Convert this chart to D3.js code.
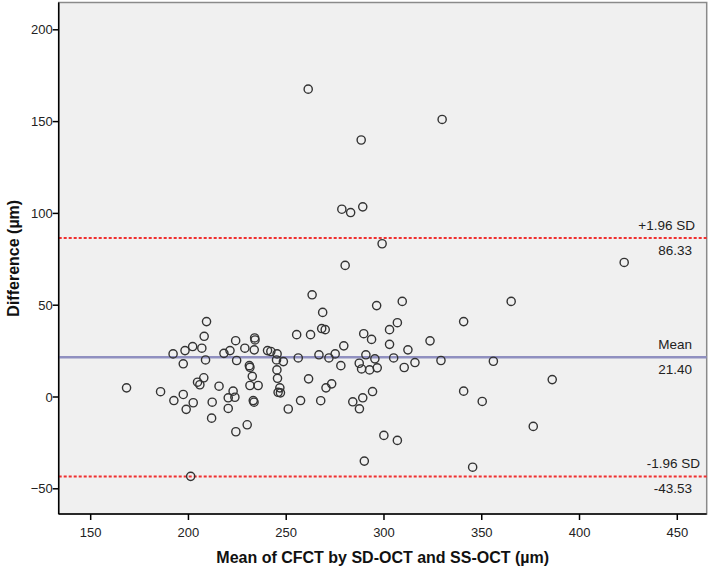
<!DOCTYPE html>
<html>
<head>
<meta charset="utf-8">
<script src="https://cdn.jsdelivr.net/npm/d3@7"></script>
<style>
  html, body { margin: 0; padding: 0; background: #ffffff; }
  svg { display: block; font-family: "Liberation Sans", Arial, sans-serif; }
</style>
</head>
<body>
<svg id="chart" width="711" height="569"></svg>
<script>
// ---- Data ----
const meanValues = [
  261.5, 330.0, 288.6, 278.7, 283.2, 289.4, 299.3, 280.4, 423.1, 365.3,
  263.5, 268.9, 296.5, 309.6, 307.1, 303.1, 293.9, 341.0, 303.1, 323.8,
  312.5, 295.6, 305.2, 292.9, 296.8, 310.6, 316.1, 329.4, 356.2, 294.4,
  341.0, 350.5, 386.3, 376.6, 345.6, 300.2, 307.1, 290.2, 255.6, 262.7,
  268.4, 270.2, 279.7, 289.9, 240.7, 242.4, 245.6, 245.3, 248.8, 256.4,
  267.0, 272.1, 275.3, 278.2, 287.6, 288.8, 291.0, 245.5, 245.8, 261.7,
  273.5, 270.6, 247.0, 246.1, 247.3, 257.6, 267.9, 251.3, 284.3, 289.4,
  287.7, 209.5, 208.3, 202.4, 198.5, 207.1, 192.4, 197.6, 209.0, 224.4,
  218.4, 221.5, 224.9, 229.1, 234.1, 234.3, 233.9, 231.4, 231.7, 232.9,
  231.7, 235.9, 208.1, 204.9, 206.1, 215.9, 223.1, 224.0, 220.6, 186.0,
  197.6, 192.8, 202.7, 212.4, 233.4, 233.8, 199.1, 220.6, 212.1, 224.5,
  230.3, 201.4, 168.6
];
const diffValues = [
  167.4, 150.9, 139.7, 102.0, 100.2, 103.3, 83.2, 71.4, 73.0, 51.8,
  55.4, 45.8, 49.5, 51.8, 40.2, 36.4, 31.1, 40.8, 28.4, 30.3,
  25.4, 20.5, 21.0, 14.5, 15.6, 15.8, 18.5, 19.6, 19.2, 2.7,
  2.9, -2.7, 9.2, -16.3, -38.5, -21.2, -23.9, -35.2, 33.7, 33.7,
  37.0, 36.4, 27.6, 34.2, 25.0, 24.5, 23.2, 19.9, 19.0, 21.0,
  22.7, 21.0, 23.2, 16.8, 18.1, 15.0, 22.7, 14.5, 9.9, 9.6,
  6.9, 4.7, 4.7, 2.3, 2.0, -2.2, -2.3, -6.8, -2.9, -0.7,
  -6.7, 40.8, 32.8, 27.2, 25.0, 26.3, 23.2, 17.8, 19.9, 30.4,
  23.5, 25.0, 19.6, 26.3, 31.9, 30.8, 25.4, 16.8, 15.9, 11.0,
  6.0, 6.0, 10.2, 7.8, 6.4, 5.6, 2.9, -0.4, -0.7, 2.6,
  1.1, -2.2, -3.4, -3.1, -2.2, -3.1, -7.0, -6.5, -11.8, -19.2,
  -15.4, -43.5, 4.7
];
const limitValues = [86.33, 21.40, -43.53];
const limitNames = ["+1.96 SD", "Mean", "-1.96 SD"];
const limitLabels = ["86.33", "21.40", "-43.53"];
const xTicks = [150, 200, 250, 300, 350, 400, 450];
const yTicks = [-50, 0, 50, 100, 150, 200];
const xTitle = "Mean of CFCT by SD-OCT and SS-OCT (µm)";
const yTitle = "Difference (µm)";

// ---- Layout ----
const svg = d3.select("#chart");
const plot = { left: 58.7, right: 706.7, top: 2.5, bottom: 514 };

const x = d3.scaleLinear().domain([133.9, 465.3]).range([plot.left, plot.right]);
const y = d3.scaleLinear().domain([-64.0, 214.6]).range([plot.bottom, plot.top]);

// plot background + frame
svg.append("rect")
  .attr("x", plot.left).attr("y", plot.top)
  .attr("width", plot.right - plot.left).attr("height", plot.bottom - plot.top)
  .attr("fill", "#f0f0f0")
  .attr("stroke", "#8a8a8a").attr("stroke-width", 1.5);

// reference lines
const lineStyle = [
  { color: "#f03030", width: 2, dash: "3,2" },
  { color: "#9090c0", width: 2.5, dash: null },
  { color: "#f03030", width: 2, dash: "3,2" }
];
limitValues.forEach((v, i) => {
  const l = svg.append("line")
    .attr("x1", plot.left).attr("x2", plot.right)
    .attr("y1", y(v)).attr("y2", y(v))
    .attr("stroke", lineStyle[i].color)
    .attr("stroke-width", lineStyle[i].width);
  if (lineStyle[i].dash) l.attr("stroke-dasharray", lineStyle[i].dash);
});

// labels for reference lines
const nameRight = [695, 692, 700];
limitValues.forEach((v, i) => {
  svg.append("text")
    .attr("x", nameRight[i]).attr("y", y(v) - 8)
    .attr("text-anchor", "end")
    .attr("font-size", 13.5).attr("fill", "#222")
    .text(limitNames[i]);
  svg.append("text")
    .attr("x", 692).attr("y", y(v) + 17)
    .attr("text-anchor", "end")
    .attr("font-size", 13.5).attr("fill", "#222")
    .text(limitLabels[i]);
});

// points
const pts = meanValues.map((m, i) => ({ m, d: diffValues[i] }));
svg.append("g").selectAll("circle")
  .data(pts).join("circle")
  .attr("cx", p => x(p.m)).attr("cy", p => y(p.d))
  .attr("r", 4.1)
  .attr("fill", "none")
  .attr("stroke", "#333")
  .attr("stroke-width", 1.4);

// axes
const xAxis = svg.append("g")
  .attr("transform", `translate(0,${plot.bottom})`)
  .call(d3.axisBottom(x).tickValues(xTicks).tickSize(6).tickSizeOuter(0).tickFormat(d3.format("d")));
const yAxis = svg.append("g")
  .attr("transform", `translate(${plot.left},0)`)
  .call(d3.axisLeft(y).tickValues(yTicks).tickSize(6).tickSizeOuter(0).tickFormat(d3.format("d")));

[xAxis, yAxis].forEach(g => {
  g.select(".domain").attr("stroke", "#000").attr("stroke-width", 1.5);
  g.selectAll(".tick line").attr("stroke", "#000").attr("stroke-width", 1.5);
  g.selectAll(".tick text")
    .attr("font-family", "Liberation Sans, Arial, sans-serif")
    .attr("font-size", 13).attr("fill", "#222");
});
xAxis.selectAll(".tick text").attr("dy", "1.05em");
yAxis.selectAll(".tick text").attr("dy", "0.36em").attr("x", -6);
xAxis.select(".domain").attr("d", `M${plot.left},0H${plot.right}`);
yAxis.select(".domain").attr("d", `M0,${plot.bottom}V${plot.top}`);

// titles
svg.append("text")
  .attr("x", (plot.left + plot.right) / 2).attr("y", 563)
  .attr("text-anchor", "middle")
  .attr("font-size", 16).attr("font-weight", "bold").attr("fill", "#111")
  .text(xTitle);
svg.append("text")
  .attr("transform", `translate(19,${(plot.top + plot.bottom) / 2}) rotate(-90)`)
  .attr("text-anchor", "middle")
  .attr("font-size", 16).attr("font-weight", "bold").attr("fill", "#111")
  .text(yTitle);
</script>
</body>
</html>
